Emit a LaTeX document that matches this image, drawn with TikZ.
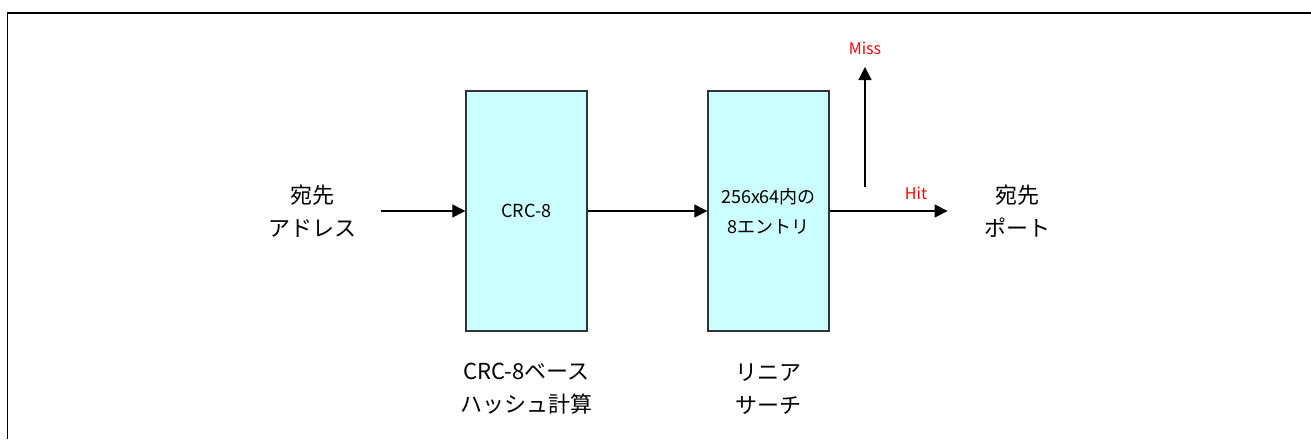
\documentclass[tikz,border=0pt]{standalone}
\usepackage{fontspec}
\setmainfont{Noto Sans CJK JP}
\usetikzlibrary{arrows.meta,positioning}
\definecolor{blockfill}{HTML}{CCFFFF}
\tikzset{
  blockbox/.style={draw=black!80, fill=blockfill, line width=0.7pt,
    minimum width=60.5pt, minimum height=120pt, align=center, inner sep=2pt,
    font=\fontsize{9}{15}\selectfont},
  caption/.style={align=center, inner sep=0pt, font=\fontsize{11}{16.5}\selectfont},
  edge/.style={-{Triangle[length=6.5pt,width=6.5pt]}, line width=0.6pt},
  flaglabel/.style={text=red, inner sep=0pt, font=\fontsize{8}{10}\selectfont},
  frame/.style={line width=0.9pt}
}
\begin{document}
\begin{tikzpicture}[x=0.5pt, y=-0.5pt]
  \useasboundingbox (0,0) rectangle (1311,439);
  \draw[frame] (7.5,439) |- (1311,13);

  \node[caption] (addr) at (312,211) {宛先\\アドレス};
  \node[blockbox] (crc) at (526.5,211) {CRC-8};
  \node[blockbox] (lin) at (768.5,211) {256x64内の\\8エントリ};
  \node[caption] (port) at (1017,211) {宛先\\ポート};

  \node[caption] (crccap) at (526.5,389) {CRC-8ベース\\ハッシュ計算};
  \node[caption] (lincap) at (768.5,389) {リニア\\サーチ};

  \draw[edge, shorten <=12.5pt] (addr.east) -- (crc.west);
  \draw[edge] (crc.east) -- (lin.west);
  \draw[edge, shorten >=18pt] (lin.east) -- (port.west);
  \node[flaglabel] (hit) at (916,193) {Hit};

  \coordinate (missfoot) at (865,187);
  \coordinate (misstip) at (865,67);
  \draw[edge] (missfoot) -- (misstip);
  \node[flaglabel] (miss) at (865,48) {Miss};
\end{tikzpicture}
\end{document}
